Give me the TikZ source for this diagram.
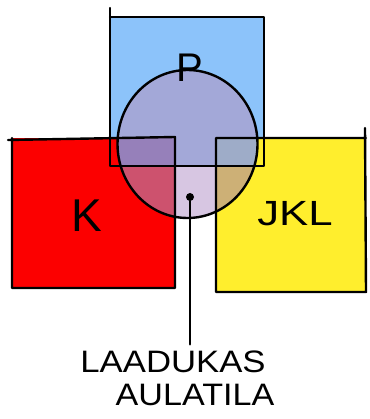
\documentclass[tikz,border=0pt]{standalone}
\usepackage{fontspec}
\setmainfont{Liberation Sans}
\definecolor{pblue}{RGB}{140,195,250}
\definecolor{kred}{RGB}{252,0,0}
\definecolor{jyellow}{RGB}{255,238,45}
\definecolor{hallwhite}{RGB}{215,198,226}
\definecolor{hallblue}{RGB}{163,168,216}
\definecolor{hallred}{RGB}{205,82,110}
\definecolor{hallyellow}{RGB}{205,176,118}
\definecolor{hallredblue}{RGB}{150,128,186}
\definecolor{hallyellowblue}{RGB}{158,172,200}
\begin{document}
\begin{tikzpicture}[x=1pt,y=-1pt,
    edge/.style={line width=2.4pt, line join=round, line cap=round},
    letters/.style={font=\fontsize{#1}{#1}\selectfont, inner sep=0pt},
    hallmark/.style={circle, fill=black, inner sep=0pt, minimum size=8pt}]
    \useasboundingbox (0,0) rectangle (369,419);

    \fill[pblue] (110,17) rectangle (264,166);
    \fill[kred] (12,138) rectangle (175,288);
    \fill[jyellow] (216,138) rectangle (366,292);

    % the shared hall
    \begin{scope}
      \clip (187.5,144) ellipse [x radius=70pt, y radius=74pt];
      \fill[hallwhite] (100,60) rectangle (280,230);
      \fill[hallred] (12,138) rectangle (175,288);
      \fill[hallyellow] (216,138) rectangle (366,292);
      \fill[hallblue] (110,17) rectangle (264,166);
      \clip (110,17) rectangle (264,166);
      \fill[hallredblue] (12,138) rectangle (175,288);
      \fill[hallyellowblue] (216,138) rectangle (366,292);
    \end{scope}

    \draw[edge] (110,8)--(110,166)--(264,166)--(264,17)--(110,17);
    \draw[edge] (8,140)--(175,137)--(175,288)--(12,288)--(12,138);
    \draw[edge] (365,128)--(366,292)--(216,292)--(216,138)--(366,138);
    \draw[edge] (187.5,144) ellipse [x radius=70pt, y radius=74pt];

    \node[letters=40, anchor=base] (p) at (190,82) {P};
    \node[letters=46, anchor=base] (k) at (87,231) {K};
    \node[letters=35, anchor=base, xscale=1.25] (jkl) at (295,225) {JKL};

    \node[hallmark] (hall) at (190,197) {};
    \node[letters=31, anchor=base, xscale=1.12, outer sep=6pt] (lbl1) at (173,372) {LAADUKAS};
    \node[letters=31, anchor=base, xscale=1.1] (lbl2) at (195,405) {AULATILA};
    \draw[edge] (hall) -- (hall |- lbl1.north);
  \end{tikzpicture}
\end{document}
